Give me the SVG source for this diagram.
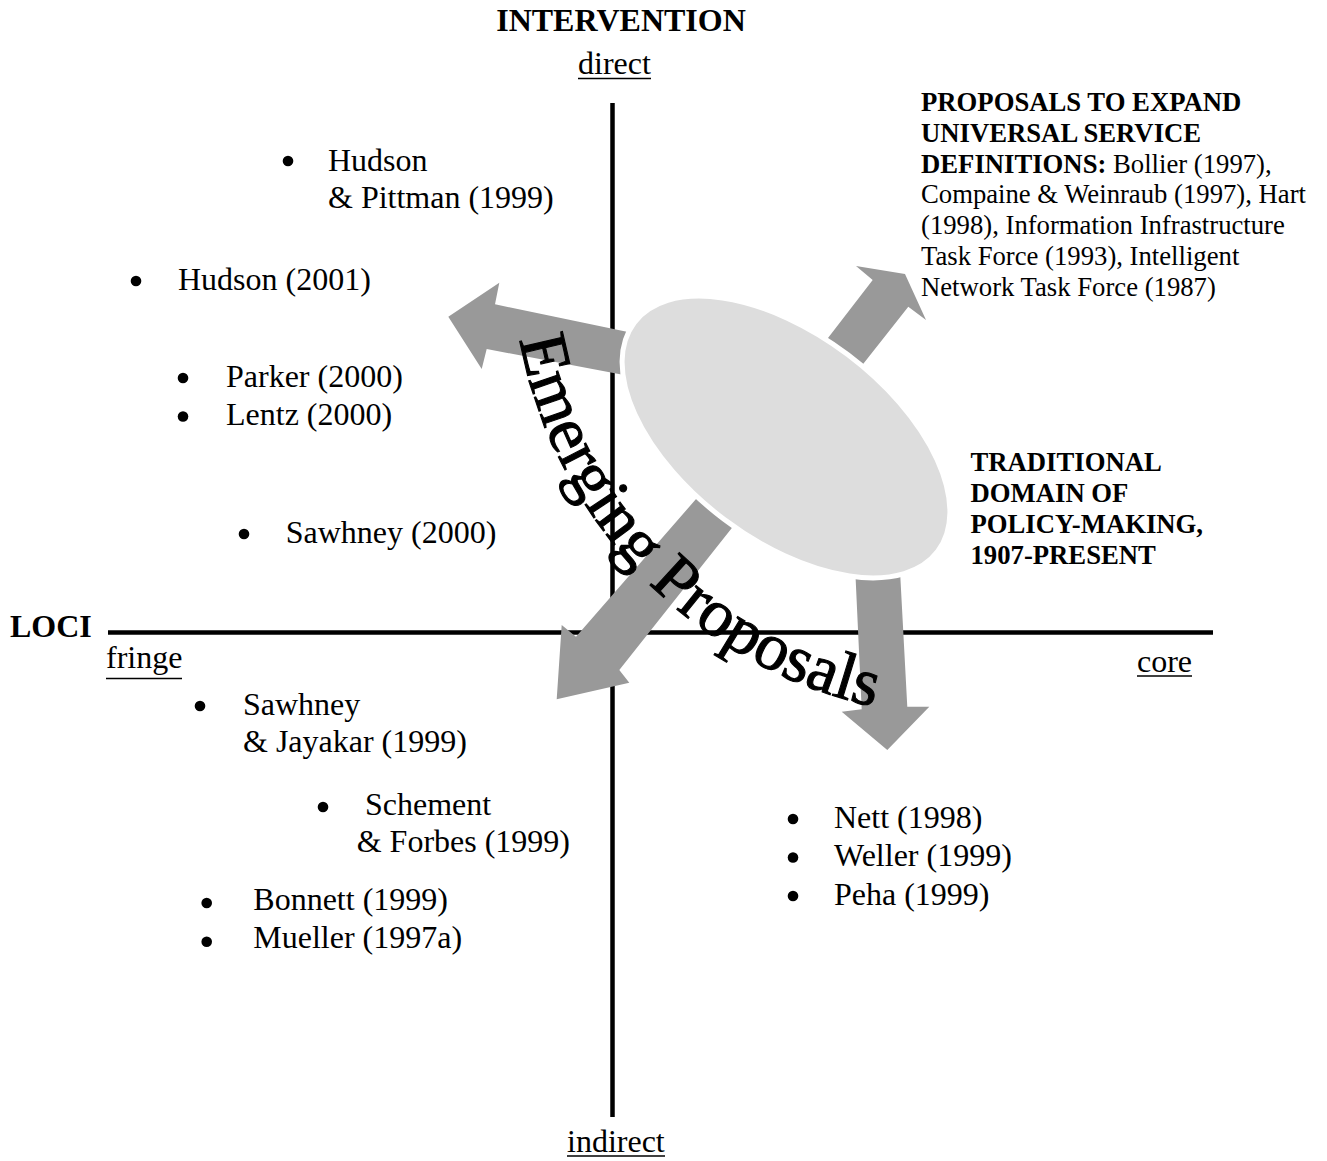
<svg xmlns="http://www.w3.org/2000/svg" width="1327" height="1161" viewBox="0 0 1327 1161">
<style>
  text { font-family: 'Liberation Serif', 'Times New Roman', serif; fill: #000; }
  .lbl { font-size: 32px; }
  .hdr { font-size: 32px; font-weight: bold; }
  .sm { font-size: 26.7px; }
  .b { font-weight: bold; }
  .axis { stroke: #000; stroke-width: 4.5; fill: none; }
  .ul { stroke: #000; stroke-width: 1.7; }
  .arrow { fill: #999999; stroke: none; }
  .bullet { fill: #000; }
  .ell { fill: #dddddd; stroke: #ffffff; stroke-width: 5; }
  .wa { font-size: 67px; stroke: #000; stroke-width: 1.1px; }
</style>
<defs>
  <path id="arc" d="M 513.8 295.4 A 463 463 0 0 0 934.6 716.2"/>
</defs>
<rect width="1327" height="1161" fill="#ffffff"/>

<g id="axes">
  <line class="axis" x1="612.5" y1="103" x2="612.5" y2="1117"/>
  <line class="axis" x1="108" y1="632.5" x2="1213" y2="632.5"/>
</g>

<g id="axis-labels">
  <text class="hdr" x="621" y="31" text-anchor="middle">INTERVENTION</text>
  <text class="lbl" x="578" y="74">direct</text>
  <line class="ul" x1="578" y1="78.5" x2="651" y2="78.5"/>
  <text class="lbl" x="567" y="1151.5">indirect</text>
  <line class="ul" x1="567" y1="1156" x2="665" y2="1156"/>
  <text class="hdr" x="10" y="637">LOCI</text>
  <text class="lbl" x="106" y="668">fringe</text>
  <line class="ul" x1="106" y1="678.5" x2="182" y2="678.5"/>
  <text class="lbl" x="1137" y="671.5">core</text>
  <line class="ul" x1="1137" y1="676" x2="1192" y2="676"/>
</g>

<g id="connectors">
  <polygon class="arrow" points="448.3,316.7 499.3,282.7 495,304.3 640,334.5 632,376.5 486.7,349 481.7,369"/>
  <polygon class="arrow" points="814.5,355.5 872.7,280 856,266 905,274 926,320 908.3,306.7 849.5,381.2"/>
  <polygon class="arrow" points="711.5,481.3 746.5,509.6 619.3,670 629.3,682.7 556.7,699.3 561.7,625 576,636.7"/>
  <polygon class="arrow" points="855,565 899.6,563.3 907.3,706.7 929.3,706.7 887.3,750 841.7,711.7 861.7,709.3"/>
</g>

<g id="traditional-domain-ellipse">
  <ellipse class="ell" cx="786" cy="437" rx="190" ry="103" transform="rotate(37 786 437)"/>
</g>

<g id="emerging-proposals">
  <text class="wa"><textPath href="#arc" startOffset="44.4">Emerging Proposals</textPath></text>
</g>

<g id="expand-proposals">
  <text class="sm" x="921" y="110.7"><tspan class="b">PROPOSALS TO EXPAND</tspan></text>
  <text class="sm" x="921" y="141.7"><tspan class="b">UNIVERSAL SERVICE</tspan></text>
  <text class="sm" x="921" y="172.7"><tspan class="b">DEFINITIONS:</tspan> Bollier (1997),</text>
  <text class="sm" x="921" y="203.4">Compaine &amp; Weinraub (1997), Hart</text>
  <text class="sm" x="921" y="234.1">(1998), Information Infrastructure</text>
  <text class="sm" x="921" y="264.9">Task Force (1993), Intelligent</text>
  <text class="sm" x="921" y="295.7">Network Task Force (1987)</text>
</g>

<g id="traditional-domain">
  <text class="sm b" x="970.5" y="471">TRADITIONAL</text>
  <text class="sm b" x="970.5" y="502">DOMAIN OF</text>
  <text class="sm b" x="970.5" y="533">POLICY-MAKING,</text>
  <text class="sm b" x="970.5" y="564">1907-PRESENT</text>
</g>

<g id="hudson-pittman">
  <circle class="bullet" cx="288" cy="161" r="5.3"/>
  <text class="lbl" x="328" y="170.5">Hudson</text>
  <text class="lbl" x="328" y="207.5">&amp; Pittman (1999)</text>
</g>
<g id="hudson-2001">
  <circle class="bullet" cx="136" cy="281" r="5.3"/>
  <text class="lbl" x="178" y="289.5">Hudson (2001)</text>
</g>
<g id="parker-2000">
  <circle class="bullet" cx="183" cy="378" r="5.3"/>
  <text class="lbl" x="226" y="386.5">Parker (2000)</text>
</g>
<g id="lentz-2000">
  <circle class="bullet" cx="183" cy="416.5" r="5.3"/>
  <text class="lbl" x="226" y="425">Lentz (2000)</text>
</g>
<g id="sawhney-2000">
  <circle class="bullet" cx="244" cy="534" r="5.3"/>
  <text class="lbl" x="285.7" y="542.5">Sawhney (2000)</text>
</g>
<g id="sawhney-jayakar">
  <circle class="bullet" cx="200" cy="706" r="5.3"/>
  <text class="lbl" x="243" y="715">Sawhney</text>
  <text class="lbl" x="243" y="752">&amp; Jayakar (1999)</text>
</g>
<g id="schement-forbes">
  <circle class="bullet" cx="323" cy="807" r="5.3"/>
  <text class="lbl" x="365" y="815">Schement</text>
  <text class="lbl" x="356.7" y="852">&amp; Forbes (1999)</text>
</g>
<g id="bonnett-1999">
  <circle class="bullet" cx="206.7" cy="903" r="5.3"/>
  <text class="lbl" x="253.3" y="910">Bonnett (1999)</text>
</g>
<g id="mueller-1997a">
  <circle class="bullet" cx="206.7" cy="941.7" r="5.3"/>
  <text class="lbl" x="253.3" y="948.3">Mueller (1997a)</text>
</g>
<g id="nett-1998">
  <circle class="bullet" cx="793" cy="819" r="5.3"/>
  <text class="lbl" x="834" y="827.5">Nett (1998)</text>
</g>
<g id="weller-1999">
  <circle class="bullet" cx="793" cy="857.5" r="5.3"/>
  <text class="lbl" x="834" y="866">Weller (1999)</text>
</g>
<g id="peha-1999">
  <circle class="bullet" cx="793" cy="896" r="5.3"/>
  <text class="lbl" x="834" y="904.5">Peha (1999)</text>
</g>
</svg>
